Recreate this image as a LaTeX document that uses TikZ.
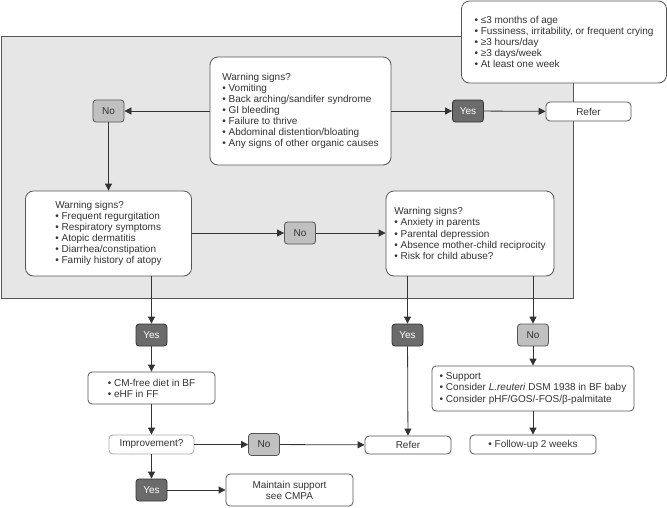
\documentclass[tikz,border=0pt]{standalone}
\usepackage{fontspec}
\setmainfont{Liberation Sans}
\usetikzlibrary{arrows.meta, positioning, calc}
\definecolor{fcInk}{HTML}{333333}
\definecolor{fcLine}{HTML}{555555}
\definecolor{fcPanel}{HTML}{E6E6E6}
\definecolor{fcYes}{HTML}{6B6B6B}
\definecolor{fcNo}{HTML}{C0C0C0}
\definecolor{fcSoft}{HTML}{A8A8A8}
\newcommand{\fcb}{\textbullet\ }
\tikzset{
  sign/.style={
    draw=fcLine, line width=0.8pt, rounded corners=8pt,
    fill=white, inner sep=0pt, align=left,
    font=\fontsize{10}{11.1}\selectfont, text=fcInk
  },
  act/.style={sign, rounded corners=4pt, align=center},
  ansyes/.style={
    draw=fcInk, line width=0.8pt, rounded corners=3pt, fill=fcYes,
    text=white, font=\fontsize{10}{11}\selectfont,
    minimum width=31pt, minimum height=22pt, inner sep=0pt
  },
  ansno/.style={ansyes, draw=fcLine, fill=fcNo, text=fcInk},
  flow/.style={-{Triangle[length=7pt, width=7pt]}, line width=0.8pt, draw=fcInk},
  panel/.style={draw=fcLine, line width=1pt, fill=fcPanel},
}

\begin{document}
\begin{tikzpicture}[x=1pt, y=-1pt]
  \useasboundingbox (0,0) rectangle (667,507);
  \draw[panel] (1,36) rectangle (573,298);

  % criteria and first screen
  \node[sign, minimum width=205pt, minimum height=82pt] (crit) at (564,42)
    {\fcb ≤3 months of age\\
     \fcb Fussiness, irritability, or frequent crying\\
     \fcb ≥3 hours/day\\
     \fcb ≥3 days/week\\
     \fcb At least one week};
  \node[sign, minimum width=181pt, minimum height=108pt] (warn) at (300.5,111)
    {Warning signs?\\
     \fcb Vomiting\\
     \fcb Back arching/sandifer syndrome\\
     \fcb GI bleeding\\
     \fcb Failure to thrive\\
     \fcb Abdominal distention/bloating\\
     \fcb Any signs of other organic causes};
  \node[ansno] (noA) at (108.5,111) {No};
  \node[ansyes] (yesA) at (468,111) {Yes};
  \node[act, minimum width=85pt, minimum height=19pt] (referA) at (588.5,111.5) {Refer};

  % second screen
  \node[sign, minimum width=166pt, minimum height=85pt] (allergy) at (108.5,233.5)
    {Warning signs?\\
     \fcb Frequent regurgitation\\
     \fcb Respiratory symptoms\\
     \fcb Atopic dermatitis\\
     \fcb Diarrhea/constipation\\
     \fcb Family history of atopy};
  \node[ansno] (noB) at (300,233) {No};
  \node[sign, minimum width=168pt, minimum height=85pt] (psych) at (470,233.5)
    {Warning signs?\\
     \fcb Anxiety in parents\\
     \fcb Parental depression\\
     \fcb Absence mother-child reciprocity\\
     \fcb Risk for child abuse?};

  % answers below the panel
  \node[ansyes] (yesB) at (151.5,335) {Yes};
  \node[ansyes] (yesC) at (407.5,335) {Yes};
  \node[ansno] (noC) at (533,335) {No};

  \node[sign, rounded corners=4pt, minimum width=127pt, minimum height=32pt] (cmfree) at (151.5,388)
    {\fcb CM-free diet in BF\\
     \fcb eHF in FF};
  \node[sign, rounded corners=4pt, minimum width=202pt, minimum height=45pt] (support) at (533,388.5)
    {\fcb Support\\
     \fcb Consider \textit{L.reuteri} DSM 1938 in BF baby\\
     \fcb Consider pHF/GOS/-FOS/β-palmitate};

  \node[act, draw=fcSoft, minimum width=85pt, minimum height=19pt] (improve) at (151.5,444.5) {Improvement?};
  \node[ansno] (noD) at (264,444.5) {No};
  \node[act, minimum width=86pt, minimum height=18pt] (referB) at (408,445) {Refer};
  \node[act, minimum width=126pt, minimum height=19pt] (follow) at (533,444.5) {\fcb Follow-up 2 weeks};

  \node[ansyes] (yesD) at (151.5,490) {Yes};
  \node[act, minimum width=127pt, minimum height=32pt] (maintain) at (289.5,490)
    {Maintain support\\see CMPA};

  % connectors
  \draw[flow] (warn.west |- noA) -- (noA);
  \draw[flow] (warn.east |- yesA) -- (yesA);
  \draw[flow] (yesA) -- (referA);
  \draw[flow] (noA) -- (noA |- allergy.north);
  \draw[flow] (allergy.east |- noB) -- (noB);
  \draw[flow] (noB) -- (psych.west |- noB);
  \draw[flow] (yesB |- allergy.south) -- (yesB);
  \draw[flow] (yesC |- psych.south) -- (yesC);
  \draw[flow] (noC |- psych.south) -- (noC);
  \draw[flow] (yesB) -- (cmfree);
  \draw[flow] (cmfree) -- (improve);
  \draw[flow] (improve) -- (noD);
  \draw[flow] (noD) -- (referB);
  \draw[flow] (yesC) -- (referB);
  \draw[flow] (noC) -- (support);
  \draw[flow] (support) -- (follow);
  \draw[flow] (improve) -- (yesD);
  \draw[flow] (yesD) -- (maintain);
\end{tikzpicture}
\end{document}
